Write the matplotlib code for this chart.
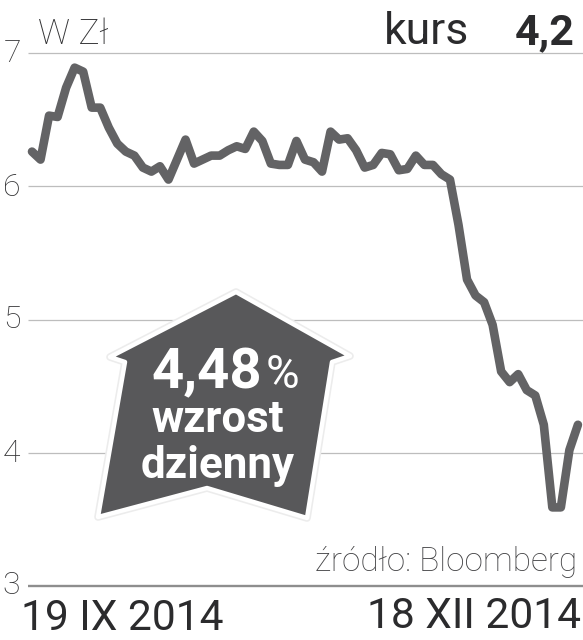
import numpy as np
import matplotlib
matplotlib.use("Agg")
import matplotlib.pyplot as plt
from matplotlib.patches import Polygon
from matplotlib.transforms import Affine2D

values = [6.26,6.20,6.53,6.52,6.74,6.89,6.86,6.59,6.59,6.44,6.32,6.26,6.23,6.14,6.11,6.15,6.05,6.20,6.35,6.17,
          6.20,6.23,6.23,6.27,6.30,6.28,6.41,6.34,6.17,6.16,6.16,6.34,6.20,6.18,6.11,6.41,6.35,6.36,6.27,6.14,
          6.16,6.25,6.24,6.12,6.13,6.23,6.16,6.16,6.09,6.05,5.71,5.30,5.18,5.13,4.96,4.61,4.53,4.59,4.47,4.43,
          4.21,3.59,3.59,4.02,4.21]
y_ticks = [3, 4, 5, 6, 7]
date_labels = ["19 IX 2014", "18 XII 2014"]
unit = "W Zł"
kurs_label = "kurs"
kurs_value = "4,2"
badge_lines = ["4,48", "%", "wzrost", "dzienny"]
source = "źródło: Bloomberg"

W, H = 583, 640
fig = plt.figure(figsize=(W/100, H/100), dpi=100, facecolor="white")
ax = fig.add_axes([0, 0, 1, 1])
ax.set_xlim(-32/8.53, (W-32)/8.53)
ax.set_ylim(3-54/133.25, 7+53/133.25)
ax.axis("off")

# pixel transform (origin top-left)
px = Affine2D().scale(1/W, -1/H).translate(0, 1) + fig.transFigure

x0 = -4/8.53
x1 = ax.get_xlim()[1]
for t in y_ticks:
    ax.plot([x0, x1], [t, t], color="#8e8e8e" if t == 3 else "#bdbdbd",
            lw=1.7 if t == 3 else 0.9, zorder=1, solid_capstyle="butt")

ax.plot(np.arange(len(values)), values, color="#636365", lw=6.2, zorder=2,
        solid_joinstyle="round", solid_capstyle="round")

font = "Roboto"
dark = "#2b2b2d"
tick_px = {7: (4, 53), 6: (3, 187), 5: (3, 320), 4: (3, 453), 3: (2, 586)}
for t in y_ticks:
    x, y = tick_px[t]
    ax.text(x, y, str(t), transform=px, fontsize=23, color="#333335", family=font,
            fontweight="light", va="center", ha="left")

ax.text(38, 44, unit, transform=px, fontsize=25.5, color="#333335", family=font,
        fontweight="light", ha="left", va="baseline")
ax.text(384, 44, kurs_label, transform=px, fontsize=32, color=dark, family=font,
        ha="left", va="baseline")
ax.text(575, 44, kurs_value, transform=px, fontsize=31, color=dark, family=font,
        fontweight="bold", ha="right", va="baseline")

ax.text(21, 630, date_labels[0], transform=px, fontsize=30.6, color=dark, family=font,
        ha="left", va="baseline")
ax.text(581, 628, date_labels[1], transform=px, fontsize=30.6, color=dark, family=font,
        ha="right", va="baseline")
ax.text(577, 571, source, transform=px, fontsize=24, color="#444446", family=font,
        fontweight="light", ha="right", va="baseline")

# arrow-shaped badge
house = [(236, 292), (350, 356), (332, 362), (307, 518), (207, 488), (98, 517), (125, 362), (110, 357)]
shadow = Polygon(house, closed=True, transform=px, facecolor="#58585a", edgecolor="#ececec",
                 lw=5.5, joinstyle="round", zorder=3)
badge = Polygon(house, closed=True, transform=px, facecolor="#58585a", edgecolor="white",
                lw=3.2, joinstyle="round", zorder=4)
ax.add_patch(shadow)
ax.add_patch(badge)
ax.text(262, 388, badge_lines[0], transform=px, fontsize=40.5, color="white", family=font,
        fontweight="bold", ha="right", va="baseline", zorder=5)
ax.text(266, 388, badge_lines[1], transform=px, fontsize=33, color="white", family=font,
        ha="left", va="baseline", zorder=5)
ax.text(218, 432, badge_lines[2], transform=px, fontsize=31.5, color="white", family=font,
        fontweight="bold", ha="center", va="baseline", zorder=5)
ax.text(218, 478, badge_lines[3], transform=px, fontsize=31.7, color="white", family=font,
        fontweight="bold", ha="center", va="baseline", zorder=5)

fig.savefig("out.png", dpi=100)
